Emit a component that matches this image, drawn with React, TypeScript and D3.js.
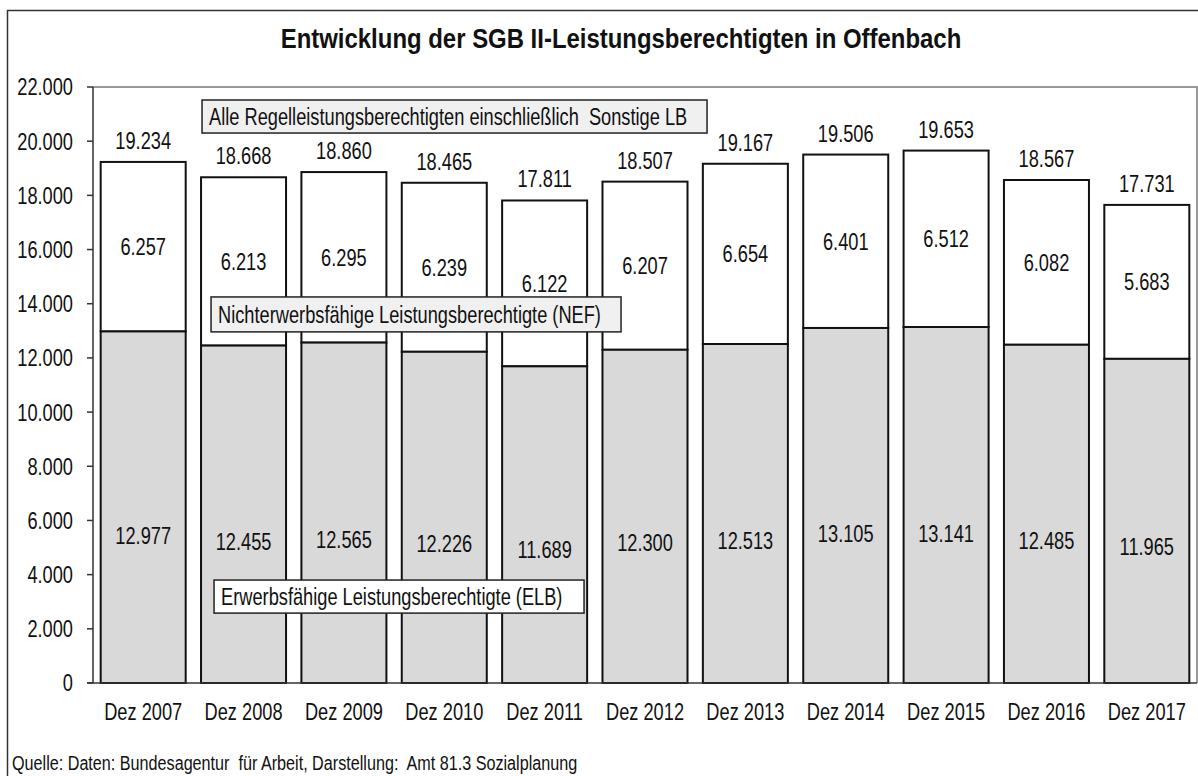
import React from 'react';
import * as d3 from 'd3';

const categories = ['Dez 2007', 'Dez 2008', 'Dez 2009', 'Dez 2010', 'Dez 2011', 'Dez 2012', 'Dez 2013', 'Dez 2014', 'Dez 2015', 'Dez 2016', 'Dez 2017'];
const elb = [12977, 12455, 12565, 12226, 11689, 12300, 12513, 13105, 13141, 12485, 11965];
const nef = [6257, 6213, 6295, 6239, 6122, 6207, 6654, 6401, 6512, 6082, 5683];
const totals = [19234, 18668, 18860, 18465, 17811, 18507, 19167, 19506, 19653, 18567, 17731];
const yTicks = [0, 2000, 4000, 6000, 8000, 10000, 12000, 14000, 16000, 18000, 20000, 22000];

const title = 'Entwicklung der SGB II-Leistungsberechtigten in Offenbach';
const source = 'Quelle: Daten: Bundesagentur  für Arbeit, Darstellung:  Amt 81.3 Sozialplanung';
const labelAll = 'Alle Regelleistungsberechtigten einschließlich  Sonstige LB';
const labelNef = 'Nichterwerbsfähige Leistungsberechtigte (NEF)';
const labelElb = 'Erwerbsfähige Leistungsberechtigte (ELB)';

const W = 1198;
const H = 776;
const font = 'Arial, "Liberation Sans", sans-serif';
const SX = 0.76; // the reference glyphs are horizontally condensed

const de = d3.formatLocale({ decimal: ',', thousands: '.', grouping: [3], currency: ['', ' €'] });
const fmt = de.format(',d');

type TProps = { x: number; y: number; size?: number; anchor?: string; weight?: string; mid?: boolean; sx?: number; children: React.ReactNode };
function T({ x, y, size = 24, anchor = 'middle', weight = 'normal', mid = false, sx = SX, children }: TProps) {
  return (
    <text transform={`translate(${x},${y}) scale(${sx},1)`} textAnchor={anchor} fontSize={size}
      fontWeight={weight} dy={mid ? '0.35em' : undefined} fill="#111" style={{ whiteSpace: 'pre' }}>
      {children}
    </text>
  );
}

export default function App() {
  const left = 93, right = 1197, top = 87, bottom = 683;

  const x = d3.scaleBand<string>()
    .domain(categories)
    .range([left, right])
    .paddingInner(0.153)
    .paddingOuter(0.0765);
  const y = d3.scaleLinear().domain([0, 22000]).range([bottom, top]);
  const bw = x.bandwidth();

  const rows = categories.map((c, i) => ({ c, elb: elb[i], nef: nef[i], total: totals[i] }));

  // annotation boxes, anchored to scale values
  const x2 = x('Dez 2008') ?? 0;
  const boxes = [
    { text: labelAll, x: x2 + 1, y0: 21520, y1: 20300, w: 505, fill: '#f0f0f0' },
    { text: labelNef, x: x2 + 10, y0: 14250, y1: 12960, w: 410, fill: '#f0f0f0' },
    { text: labelElb, x: x2 + 13, y0: 3800, y1: 2580, w: 370, fill: '#ffffff' },
  ];

  return (
    <svg width={W} height={H} style={{ position: 'absolute', left: 0, top: 0, background: '#fff' }}
      fontFamily={font}>
      {/* outer frame */}
      <rect x={7.5} y={10.5} width={W + 10} height={H + 10} fill="none" stroke="#333" strokeWidth={1.5} />

      <T x={621} y={48} size={28} weight="bold" sx={0.855}>{title}</T>

      {/* plot frame: top and right */}
      <path d={`M${left},${top}H${right}V${bottom}`} fill="none" stroke="#999" strokeWidth={2} />

      {/* y axis */}
      <line x1={left} x2={left} y1={top} y2={bottom} stroke="#333" strokeWidth={1.5} />
      {yTicks.map(t => (
        <g key={t}>
          <line x1={left - 6} x2={left} y1={y(t)} y2={y(t)} stroke="#333" strokeWidth={1.5} />
          <T x={73} y={y(t)} anchor="end" mid>{fmt(t)}</T>
        </g>
      ))}

      {/* bars */}
      {rows.map(r => {
        const bx = x(r.c) ?? 0;
        const cx = bx + bw / 2;
        return (
          <g key={r.c}>
            <rect x={bx} y={y(r.elb + r.nef)} width={bw} height={y(r.elb) - y(r.elb + r.nef)}
              fill="#ffffff" stroke="#111" strokeWidth={2} />
            <rect x={bx} y={y(r.elb)} width={bw} height={y(0) - y(r.elb)}
              fill="#d9d9d9" stroke="#111" strokeWidth={2} />
            <T x={cx} y={y(r.elb + r.nef) - 13}>{fmt(r.total)}</T>
            <T x={cx} y={y(r.elb + r.nef / 2)} mid>{fmt(r.nef)}</T>
            <T x={cx} y={y(r.elb * 0.42)} mid>{fmt(r.elb)}</T>
            <T x={cx} y={bottom + 37}>{r.c}</T>
          </g>
        );
      })}

      {/* x axis */}
      <line x1={left - 6} x2={right} y1={bottom} y2={bottom} stroke="#333" strokeWidth={1.5} />

      {boxes.map(b => (
        <g key={b.text}>
          <rect x={b.x} y={y(b.y0)} width={b.w} height={y(b.y1) - y(b.y0)} fill={b.fill} stroke="#222" strokeWidth={1.5} />
          <T x={b.x + 7} y={(y(b.y0) + y(b.y1)) / 2} anchor="start" mid>{b.text}</T>
        </g>
      ))}

      <T x={12} y={770} size={21} sx={0.77} anchor="start">{source}</T>
    </svg>
  );
}
